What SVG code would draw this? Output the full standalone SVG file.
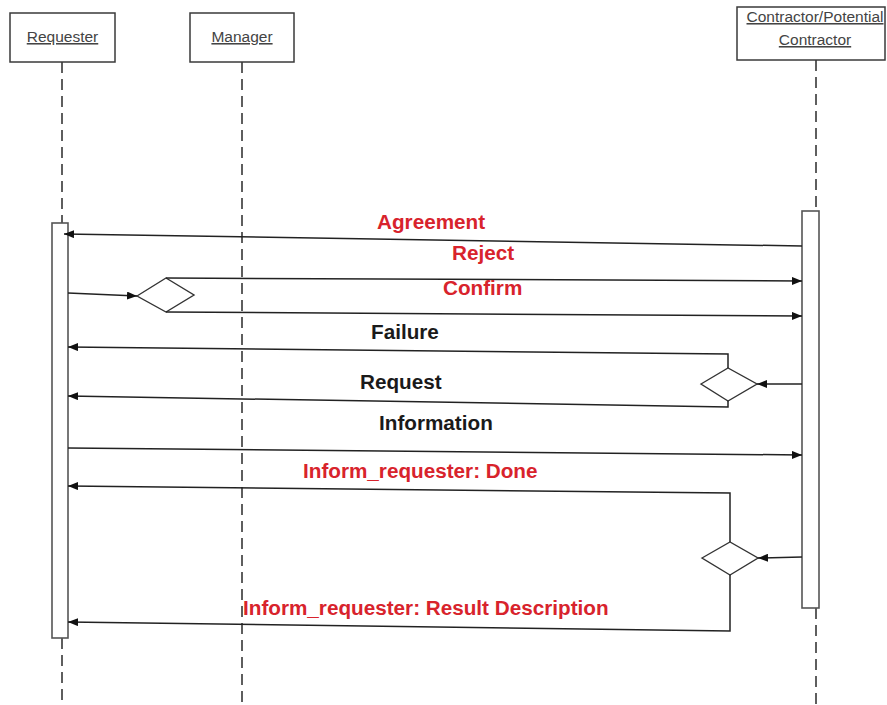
<svg xmlns="http://www.w3.org/2000/svg" width="887" height="705" viewBox="0 0 887 705">
  <style>
    .box { fill: #ffffff; stroke: #3a3a3a; stroke-width: 1.5; }
    .name { font-family: "Liberation Sans", Arial, sans-serif; font-size: 15.5px; fill: #444444; text-anchor: middle; text-decoration: underline; }
    .life { stroke: #2a2a2a; stroke-width: 1.5; stroke-dasharray: 11 6; fill: none; }
    .bar { fill: #ffffff; stroke: #555555; stroke-width: 1.6; }
    .msg { stroke: #222222; stroke-width: 1.5; fill: none; }
    .arr { marker-end: url(#head); }
    .gate { fill: #ffffff; stroke: #333333; stroke-width: 1.4; }
    .lbl { font-family: "Liberation Sans", Arial, sans-serif; font-size: 20.7px; font-weight: bold; }
    .red { fill: #d8232c; }
    .blk { fill: #1a1a1a; }
  </style>
  <defs>
    <marker id="head" viewBox="0 0 10 8" refX="10" refY="4" markerWidth="10" markerHeight="8" markerUnits="userSpaceOnUse" orient="auto">
      <path d="M0,0 L10,4 L0,8 Z" fill="#111111"/>
    </marker>
  </defs>

  <!-- lifelines -->
  <g id="lifelines">
    <line class="life" x1="62" y1="62" x2="62" y2="223"/>
    <line class="life" x1="62" y1="638" x2="62" y2="705"/>
    <line class="life" x1="242" y1="62" x2="242" y2="705"/>
    <line class="life" x1="816" y1="60" x2="816" y2="211"/>
    <line class="life" x1="816" y1="608" x2="816" y2="705"/>
  </g>

  <g id="requester">
    <rect class="box" x="10" y="13" width="105" height="49"/>
    <text class="name" x="62.5" y="42">Requester</text>
    <rect class="bar" x="52" y="223" width="16" height="415"/>
  </g>

  <g id="manager">
    <rect class="box" x="190" y="13" width="104" height="49"/>
    <text class="name" x="242" y="42">Manager</text>
  </g>

  <g id="contractor">
    <rect class="box" x="737" y="7" width="148" height="53"/>
    <text class="name" x="815" y="22">Contractor/Potential</text>
    <text class="name" x="815" y="45">Contractor</text>
    <rect class="bar" x="802" y="211" width="17" height="397"/>
  </g>

  <!-- decision points -->
  <g id="gate-left">
    <polygon class="gate" points="137,296 166,278 194,295 166,312"/>
  </g>
  <g id="gate-right-1">
    <polygon class="gate" points="701,384 728,368 757,384 728,401"/>
  </g>
  <g id="gate-right-2">
    <polygon class="gate" points="702,558 730,542 758,558 730,575"/>
  </g>

  <g id="connectors">
    <!-- Agreement -->
    <line class="msg arr" x1="802" y1="246" x2="64" y2="234"/>
    <!-- into left gate -->
    <line class="msg arr" x1="68" y1="293" x2="137" y2="296"/>
    <!-- Reject / Confirm -->
    <line class="msg arr" x1="166" y1="278" x2="802" y2="281"/>
    <line class="msg arr" x1="166" y1="312" x2="802" y2="316"/>
    <!-- into right gate 1 -->
    <line class="msg arr" x1="802" y1="384" x2="757" y2="384"/>
    <!-- Failure / Request -->
    <polyline class="msg arr" points="728,368 728,354 68,347"/>
    <polyline class="msg arr" points="728,401 728,407 68,396"/>
    <!-- Information -->
    <line class="msg arr" x1="68" y1="448" x2="802" y2="455"/>
    <!-- into right gate 2 -->
    <line class="msg arr" x1="802" y1="557" x2="758" y2="558"/>
    <!-- Done / Result Description -->
    <polyline class="msg arr" points="730,542 730,493 68,486"/>
    <polyline class="msg arr" points="730,575 730,631 68,622"/>
  </g>

  <g id="labels">
    <text class="lbl red" x="377" y="229">Agreement</text>
    <text class="lbl red" x="452" y="260">Reject</text>
    <text class="lbl red" x="443" y="295">Confirm</text>
    <text class="lbl blk" x="371" y="339">Failure</text>
    <text class="lbl blk" x="360" y="389">Request</text>
    <text class="lbl blk" x="379" y="430">Information</text>
    <text class="lbl red" x="303" y="478">Inform_requester: Done</text>
    <text class="lbl red" x="243" y="615">Inform_requester: Result Description</text>
  </g>
</svg>
